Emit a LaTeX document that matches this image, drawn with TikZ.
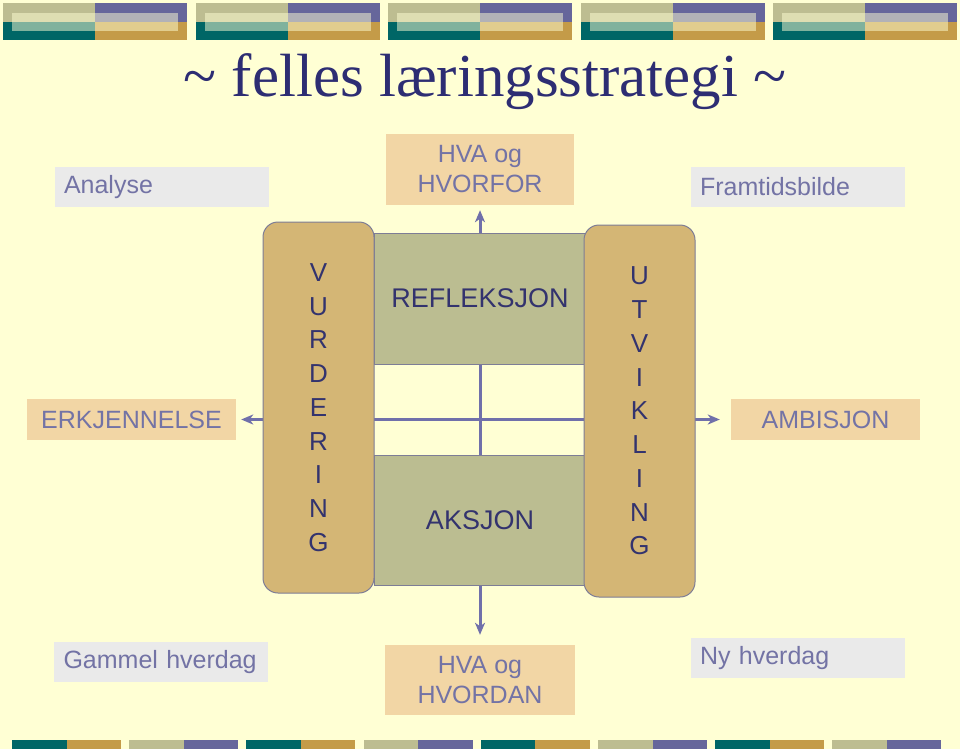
\documentclass[tikz,border=0pt]{standalone}
\usepackage{fontspec}
\setmainfont{Liberation Sans}
\newfontfamily\titlefont{Liberation Serif}
\usetikzlibrary{arrows.meta, positioning}

\definecolor{bgyellow}{RGB}{255,255,212}
\definecolor{olive}{RGB}{189,189,145}
\definecolor{plum}{RGB}{102,102,155}
\definecolor{teal}{RGB}{0,102,102}
\definecolor{gold}{RGB}{196,155,72}
\definecolor{lblgrey}{RGB}{234,234,234}
\definecolor{lbltan}{RGB}{242,214,165}
\definecolor{lbltext}{RGB}{115,115,165}
\definecolor{darktext}{RGB}{51,51,110}
\definecolor{bartan}{RGB}{212,182,117}
\definecolor{panelgreen}{RGB}{187,189,145}
\definecolor{flowline}{RGB}{112,112,170}
\definecolor{edgegrey}{RGB}{125,125,150}

\pgfdeclarelayer{bg}
\pgfdeclarelayer{lines}
\pgfsetlayers{bg,lines,main}

\begin{document}
\begin{tikzpicture}[x=1pt, y=-1pt,
    greylbl/.style={fill=lblgrey, text=lbltext, font=\fontsize{25}{30}\selectfont,
      minimum height=40pt, text width=195pt, align=left, inner xsep=9.5pt},
    tanlbl/.style={fill=lbltan, text=lbltext, font=\fontsize{25}{30}\selectfont,
      align=center, inner sep=0pt},
    panel/.style={fill=panelgreen, draw=edgegrey, line width=0.8pt, text=darktext,
      font=\fontsize{27}{32}\selectfont, minimum width=212pt, inner sep=0pt},
    bar/.style={fill=bartan, draw=edgegrey, line width=1pt, rounded corners=15pt,
      text=darktext, font=\fontsize{26}{33.75}\selectfont, align=center,
      minimum width=111pt, inner sep=0pt},
    flow/.style={draw=flowline, line width=3pt, {Stealth[length=12pt, width=10pt, inset=3.5pt]}-{Stealth[length=12pt, width=10pt, inset=3.5pt]}}]

  % background and frame
  \begin{pgfonlayer}{bg}
    \fill[bgyellow] (0,0) rectangle (960,749);
  \end{pgfonlayer}
  \useasboundingbox (0,0) rectangle (960,749);

  % top banner
  \foreach \i in {0,...,4} {
    \pgfmathsetmacro{\bx}{3+192.5*\i}
    \fill[olive] (\bx,3) rectangle ++(92,18.7);
    \fill[plum] (\bx+92,3) rectangle ++(92,18.7);
    \fill[teal] (\bx,21.7) rectangle ++(92,18.3);
    \fill[gold] (\bx+92,21.7) rectangle ++(92,18.3);
    \fill[bgyellow, opacity=0.5] (\bx+9,12.7) rectangle (\bx+175,31);
  }

  % bottom banner
  \foreach \i in {0,...,7} {
    \pgfmathsetmacro{\bx}{12+117.2*\i}
    \ifodd\i
      \fill[olive] (\bx,740) rectangle ++(54.5,9);
      \fill[plum] (\bx+54.5,740) rectangle ++(54.5,9);
    \else
      \fill[teal] (\bx,740) rectangle ++(54.5,9);
      \fill[gold] (\bx+54.5,740) rectangle ++(54.5,9);
    \fi
  }

  % title
  \node[anchor=base, inner sep=0pt, text={rgb,255:red,45;green,45;blue,115},
    font=\titlefont\fontsize{61}{70}\selectfont] (title) at (485,97)
    {\char`\~{} felles læringsstrategi \char`\~};

  % labels
  \node[greylbl] (analyse) at (161.5,187) {Analyse};
  \node[greylbl] (framtid) at (797.5,187) {Framtidsbilde};
  \node[greylbl] (gammel) at (161,662) {Gammel hverdag};
  \node[greylbl] (nyhverdag) at (797.5,658) {Ny hverdag};
  \node[tanlbl, minimum width=188pt, minimum height=71pt] (hvorfor) at (480,169.5) {HVA og\\HVORFOR};
  \node[tanlbl, minimum width=190pt, minimum height=70pt] (hvordan) at (480,680) {HVA og\\HVORDAN};
  \node[tanlbl, minimum width=209pt, minimum height=41pt] (erkj) at (131.5,419.5) {ERKJENNELSE};
  \node[tanlbl, minimum width=189pt, minimum height=41pt] (ambisjon) at (825.5,419.5) {AMBISJON};

  % middle
  \node[panel, minimum height=131pt] (refl) at (480,298.5) {REFLEKSJON};
  \node[panel, minimum height=130pt] (aksjon) at (480,520) {AKSJON};
  \node[bar, minimum height=371pt] (vurd) at (318.5,407.5) {V\\U\\R\\D\\E\\R\\I\\N\\G};
  \node[bar, minimum height=372pt] (utv) at (639.5,411) {U\\T\\V\\I\\K\\L\\I\\N\\G};

  % arrows
  \begin{pgfonlayer}{lines}
    \draw[flow, shorten <=5pt, shorten >=11pt] (erkj) -- (ambisjon);
    \draw[flow, shorten <=5pt, shorten >=10pt] (hvorfor) -- (hvordan);
  \end{pgfonlayer}
\end{tikzpicture}
\end{document}
